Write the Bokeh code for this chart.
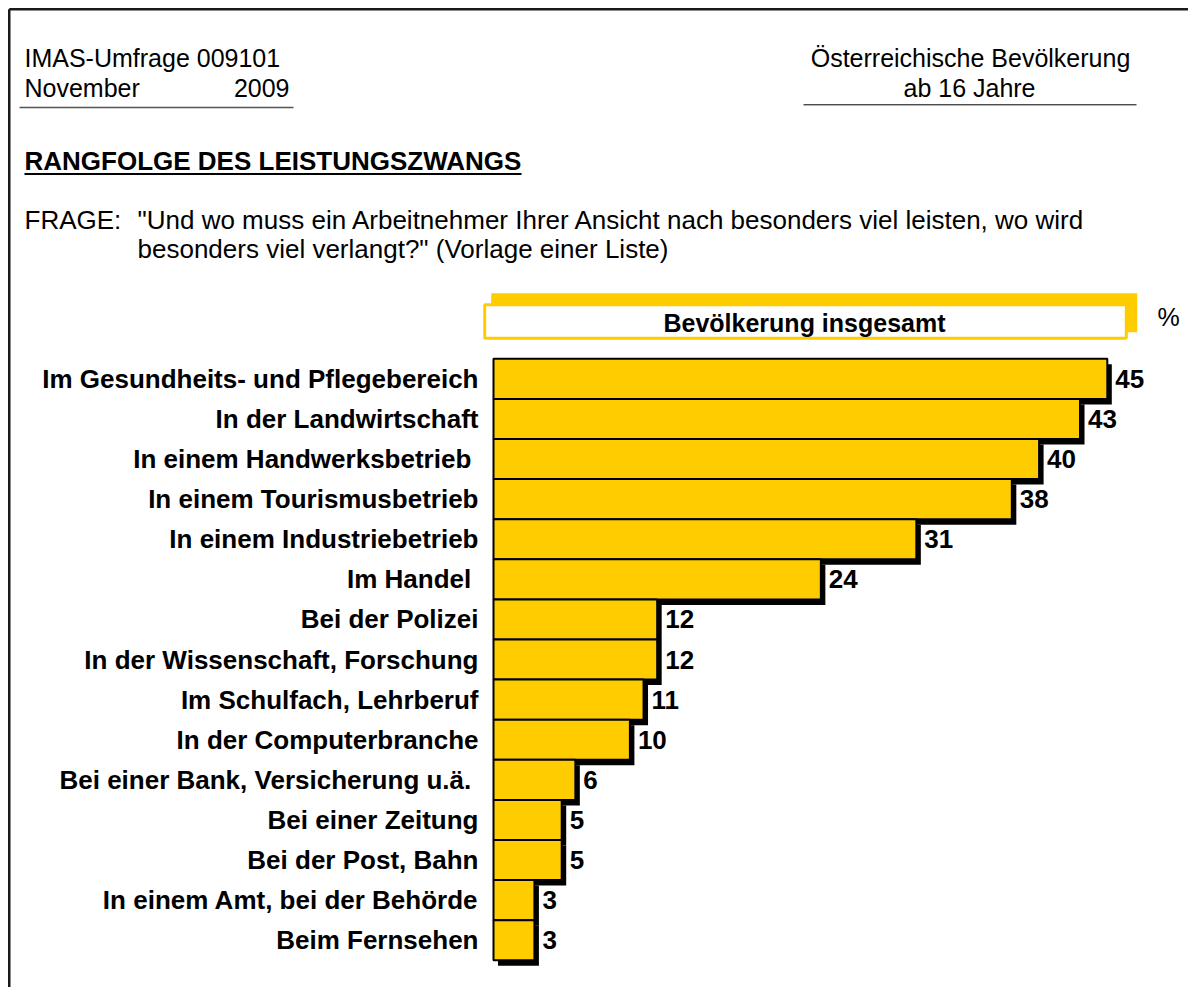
from bokeh.plotting import figure
from bokeh.models import Range1d
from bokeh.core.properties import value
from bokeh.embed import file_html
from bokeh.resources import INLINE

# ---- data ----
categories = [
    "Im Gesundheits- und Pflegebereich",
    "In der Landwirtschaft",
    "In einem Handwerksbetrieb ",
    "In einem Tourismusbetrieb",
    "In einem Industriebetrieb",
    "Im Handel ",
    "Bei der Polizei",
    "In der Wissenschaft, Forschung",
    "Im Schulfach, Lehrberuf",
    "In der Computerbranche",
    "Bei einer Bank, Versicherung u.ä. ",
    "Bei einer Zeitung",
    "Bei der Post, Bahn",
    "In einem Amt, bei der Behörde",
    "Beim Fernsehen",
]
values = [45, 43, 40, 38, 31, 24, 12, 12, 11, 10, 6, 5, 5, 3, 3]

header_left_1 = "IMAS-Umfrage 009101"
header_left_2a = "November"
header_left_2b = "2009"
header_right_1 = "Österreichische Bevölkerung"
header_right_2 = "ab 16 Jahre"
title = "RANGFOLGE DES LEISTUNGSZWANGS"
question_label = "FRAGE:"
question_1 = "\"Und wo muss ein Arbeitnehmer Ihrer Ansicht nach besonders viel leisten, wo wird"
question_2 = "besonders viel verlangt?\" (Vorlage einer Liste)"
series_name = "Bevölkerung insgesamt"
unit = "%"

# ---- layout (pixels) ----
W, H = 1188, 987
PX_PER_UNIT = 13.64
BAR_X0 = 493.0
ROW_TOP = 358.3
ROW_H = 40.1
SHADOW_DX = 4.5
SHADOW_DY = 5.5
YELLOW = "#FFCC00"
FONT = value("Liberation Sans")

p = figure(width=W, height=H, x_range=Range1d(0, W), y_range=Range1d(H, 0),
           output_backend="svg", toolbar_location=None, min_border=0,
           x_axis_location=None, y_axis_location=None, outline_line_color=None,
           background_fill_color="white", border_fill_color="white")
p.grid.visible = False
p.extra_x_ranges = {"val": Range1d(-BAR_X0 / PX_PER_UNIT, (W - BAR_X0) / PX_PER_UNIT)}
p.extra_y_ranges = {"rows": Range1d((H - ROW_TOP) / ROW_H, -ROW_TOP / ROW_H)}

n = len(values)
rows = list(range(n))
dx = SHADOW_DX / PX_PER_UNIT
dy = SHADOW_DY / ROW_H

# frame lines (left and top)
p.segment(x0=[8.75, 8.75], y0=[8.75, 8.75], x1=[8.75, W], y1=[H, 8.75],
          line_color="#1a1a1a", line_width=2.5)

def txt(x, y, t, size="25px", style="normal", align="left", baseline="middle", color="black"):
    p.text(x=[x], y=[y], text=[t], text_font=FONT, text_font_size=size,
           text_font_style=style, text_align=align, text_baseline=baseline,
           text_color=color)

# header texts
txt(24, 57, header_left_1)
txt(24, 87, header_left_2a)
txt(289, 87, header_left_2b, align="right")
p.segment(x0=[19], y0=[107], x1=[293], y1=[107], line_color="#555555", line_width=1.5)

txt(970, 57, header_right_1, align="center")
txt(969, 87, header_right_2, align="center")
p.segment(x0=[803], y0=[104.3], x1=[1136], y1=[104.3], line_color="black", line_width=1)

txt(24, 160, title, size="26px", style="bold")
p.segment(x0=[24], y0=[173.5], x1=[521], y1=[173.5], line_color="black", line_width=2)

txt(24, 219, question_label, size="26px")
txt(137, 219, question_1, size="26px")
txt(137, 248, question_2, size="26px")

# series header box
p.quad(left=[490.7], right=[1136.7], top=[292.7], bottom=[331.7], fill_color=YELLOW, line_color=None)
p.quad(left=[484.2], right=[1125.8], top=[304.2], bottom=[337.8], fill_color="white",
       line_color=YELLOW, line_width=3)
txt(804, 322, series_name, size="25px", style="bold", align="center")
txt(1157, 316, unit)

# shadows
p.quad(left=[dx] * n, right=[v + dx for v in values],
       top=[r + dy for r in rows], bottom=[r + 1 + dy for r in rows],
       fill_color="black", line_color=None,
       x_range_name="val", y_range_name="rows")
# bars
p.quad(left=[0] * n, right=values, top=rows, bottom=[r + 1 for r in rows],
       fill_color=YELLOW, line_color="black", line_width=2,
       x_range_name="val", y_range_name="rows")

# value labels
p.text(x=values, y=[r + 0.5 for r in rows], text=[str(v) for v in values],
       x_offset=8, text_font=FONT, text_font_size="26px", text_font_style="bold",
       text_align="left", text_baseline="middle", text_color="black",
       x_range_name="val", y_range_name="rows")

# category labels
p.text(x=[478] * n, y=[r + 0.5 for r in rows], text=categories,
       text_font=FONT, text_font_size="26px", text_font_style="bold",
       text_align="right", text_baseline="middle", text_color="black",
       y_range_name="rows")

open("out.html", "w").write(file_html(p, INLINE))
